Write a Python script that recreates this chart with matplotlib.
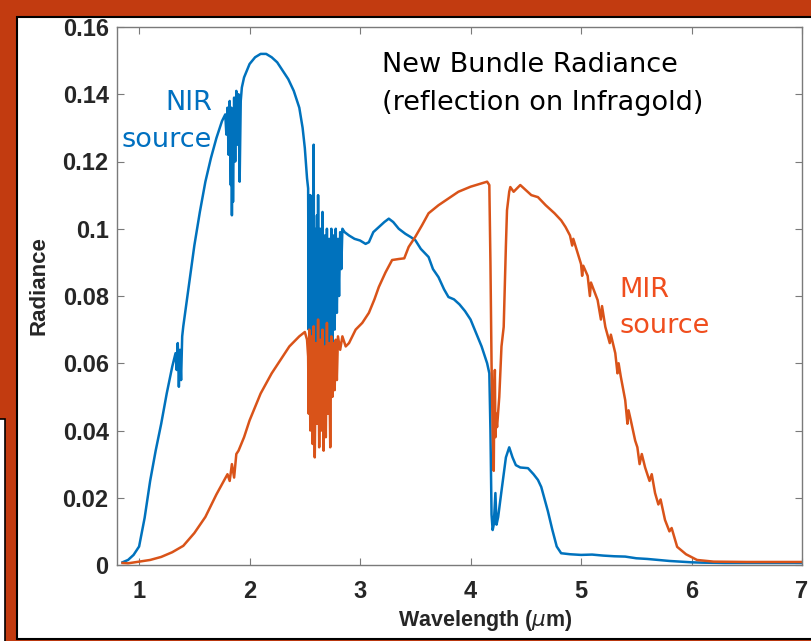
import matplotlib.pyplot as plt
from matplotlib.patches import Rectangle

# NIR source (blue) - wavelength (um), radiance
nir_x = [0.85, 0.9, 0.95, 1.0, 1.05, 1.1, 1.15, 1.2, 1.25, 1.3, 1.33, 1.34, 1.35, 1.36, 1.37, 1.38, 1.39,
         1.4, 1.45, 1.5, 1.55, 1.6, 1.65, 1.7, 1.75, 1.78,
         1.79, 1.8, 1.81, 1.82, 1.83, 1.835, 1.84, 1.845, 1.85, 1.86, 1.87, 1.88, 1.89, 1.9, 1.91, 1.92, 1.93,
         1.95, 2.0, 2.05, 2.1, 2.15, 2.2, 2.25, 2.3, 2.35, 2.4, 2.45, 2.48, 2.5, 2.52,
         2.53, 2.535, 2.54, 2.545, 2.55, 2.56, 2.565, 2.57, 2.58, 2.585, 2.59, 2.6, 2.61, 2.615, 2.62, 2.63,
         2.64, 2.65, 2.66, 2.67, 2.68, 2.69, 2.7, 2.71, 2.72, 2.73, 2.74, 2.75, 2.76, 2.77, 2.78, 2.79, 2.8,
         2.81, 2.82, 2.83, 2.84, 2.86, 2.9, 2.95, 3.0, 3.05, 3.08, 3.12, 3.17, 3.22, 3.26, 3.3, 3.35, 3.41,
         3.46, 3.5, 3.55, 3.62, 3.66, 3.71, 3.76, 3.8, 3.85, 3.9, 3.95, 4.0, 4.05, 4.1, 4.15, 4.17, 4.18,
         4.19, 4.2, 4.21, 4.225, 4.235, 4.25, 4.28, 4.32, 4.35, 4.38, 4.41, 4.45, 4.52, 4.57, 4.61, 4.64,
         4.7, 4.74, 4.78, 4.82, 4.9, 5.0, 5.1, 5.2, 5.3, 5.4, 5.5, 5.6, 5.7, 5.8, 5.9, 6.0, 6.1, 6.3, 7.0]
nir_y = [0.0008, 0.0015, 0.003, 0.0055, 0.014, 0.025, 0.034, 0.042, 0.051, 0.059, 0.063, 0.058, 0.066, 0.053,
         0.064, 0.055, 0.068, 0.071, 0.083, 0.095, 0.105, 0.114, 0.121, 0.127, 0.132, 0.134,
         0.128, 0.136, 0.122, 0.138, 0.113, 0.136, 0.104, 0.13, 0.108, 0.139, 0.12, 0.141, 0.125, 0.14, 0.114,
         0.138, 0.142, 0.145, 0.149, 0.151, 0.152, 0.152, 0.151, 0.1495, 0.147, 0.1445, 0.141, 0.136, 0.13,
         0.124, 0.115,
         0.112, 0.07, 0.108, 0.06, 0.11, 0.05, 0.105, 0.065, 0.125, 0.055, 0.1, 0.045, 0.104, 0.06, 0.11, 0.05,
         0.1, 0.058, 0.105, 0.048, 0.098, 0.06, 0.1, 0.055, 0.097, 0.065, 0.1, 0.06, 0.098, 0.07, 0.1, 0.075,
         0.097, 0.08, 0.099, 0.088, 0.1, 0.099, 0.098, 0.097, 0.0965, 0.0955, 0.096, 0.099, 0.1005, 0.102,
         0.103, 0.102, 0.1, 0.0985, 0.0975, 0.0966, 0.094, 0.0916, 0.088, 0.0856, 0.082, 0.0797, 0.079,
         0.0775, 0.0755, 0.073, 0.069, 0.065, 0.06, 0.057, 0.04, 0.015, 0.0104, 0.012, 0.0214, 0.012, 0.0143,
         0.022, 0.032, 0.035, 0.032, 0.0297, 0.029, 0.0288, 0.027, 0.0253, 0.0232, 0.016, 0.0105, 0.0055,
         0.0035, 0.0032, 0.003, 0.0031, 0.0028, 0.0026, 0.0025, 0.002, 0.0018, 0.0015, 0.0012, 0.001, 0.0008,
         0.0007, 0.0006, 0.0006]

# MIR source (orange)
mir_x = [0.85, 0.9, 1.0, 1.1, 1.2, 1.3, 1.4, 1.5, 1.6, 1.7, 1.8, 1.82, 1.84, 1.86, 1.88, 1.9, 1.95, 2.0,
         2.1, 2.2, 2.3, 2.36, 2.45, 2.5, 2.52,
         2.53, 2.535, 2.54, 2.55, 2.56, 2.57, 2.58, 2.59, 2.6, 2.61, 2.62, 2.63, 2.64, 2.65, 2.66, 2.67, 2.68,
         2.69, 2.7, 2.71, 2.72, 2.73, 2.74, 2.75, 2.76, 2.77, 2.78, 2.79, 2.8, 2.82, 2.84, 2.87, 2.9, 2.96,
         3.02, 3.08, 3.13, 3.17, 3.23, 3.29, 3.35, 3.4, 3.44, 3.5, 3.56, 3.62, 3.71, 3.8, 3.89, 4.0, 4.1,
         4.15, 4.17, 4.18, 4.19, 4.2, 4.21, 4.215, 4.22, 4.225, 4.23, 4.24, 4.26, 4.28, 4.3, 4.32, 4.33, 4.35,
         4.36, 4.39, 4.42, 4.45, 4.5, 4.55, 4.61, 4.68, 4.76, 4.82, 4.86, 4.9, 4.92, 4.93, 4.97, 5.0, 5.01,
         5.02, 5.06, 5.08, 5.09, 5.15, 5.18, 5.19, 5.22, 5.26, 5.27, 5.31, 5.33, 5.34, 5.36, 5.4, 5.42, 5.43,
         5.45, 5.49, 5.51, 5.53, 5.55, 5.58, 5.62, 5.64, 5.67, 5.7, 5.72, 5.76, 5.8, 5.82, 5.87, 5.95, 6.05,
         6.2, 6.5, 7.0]
mir_y = [0.0006, 0.0005, 0.001, 0.0015, 0.0024, 0.0038, 0.0057, 0.0095, 0.0143, 0.021, 0.027, 0.025, 0.03,
         0.026, 0.033, 0.034, 0.038, 0.043, 0.051, 0.057, 0.062, 0.065, 0.068, 0.0693, 0.067,
         0.062, 0.045, 0.07, 0.04, 0.068, 0.036, 0.071, 0.032, 0.066, 0.042, 0.073, 0.035, 0.067, 0.04, 0.07,
         0.034, 0.065, 0.038, 0.072, 0.045, 0.066, 0.035, 0.068, 0.05, 0.066, 0.052, 0.067, 0.055, 0.068,
         0.064, 0.068, 0.065, 0.066, 0.07, 0.072, 0.075, 0.079, 0.0827, 0.087, 0.0907, 0.091, 0.0912, 0.0946,
         0.0976, 0.101, 0.1046, 0.107, 0.109, 0.111, 0.1125, 0.1135, 0.114, 0.113, 0.09, 0.06, 0.04, 0.028,
         0.05, 0.058, 0.038, 0.045, 0.041, 0.05, 0.065, 0.0708, 0.095, 0.1055, 0.111, 0.1124, 0.111, 0.112,
         0.113, 0.1115, 0.11, 0.1094, 0.107, 0.1046, 0.1025, 0.1005, 0.098, 0.095, 0.097, 0.0927, 0.0895,
         0.086, 0.089, 0.086, 0.08, 0.084, 0.0788, 0.073, 0.077, 0.0708, 0.066, 0.0685, 0.063, 0.057, 0.06,
         0.056, 0.049, 0.042, 0.046, 0.0431, 0.037, 0.035, 0.03, 0.033, 0.029, 0.025, 0.027, 0.0214, 0.018,
         0.0195, 0.0134, 0.01, 0.011, 0.0054, 0.0032, 0.0015, 0.001, 0.0009, 0.0009]

x_ticks = [1, 2, 3, 4, 5, 6, 7]
y_ticks = [0, 0.02, 0.04, 0.06, 0.08, 0.1, 0.12, 0.14, 0.16]
y_tick_labels = ['0', '0.02', '0.04', '0.06', '0.08', '0.1', '0.12', '0.14', '0.16']

W, H = 812, 641
fig = plt.figure(figsize=(W / 100, H / 100), dpi=100, facecolor='#c23b10')

# slide panels behind the axes
fig.patches.append(Rectangle((-0.01, -0.01), 5 / W + 0.01, (H - 419) / H + 0.01, transform=fig.transFigure,
                             facecolor='white', edgecolor='black', lw=1.2, zorder=-10))
fig.patches.append(Rectangle((17 / W, 2 / H), 1.0, (639 - 17) / H, transform=fig.transFigure,
                             facecolor='white', edgecolor='black', lw=1.5, zorder=-9))

ax = fig.add_axes([117 / W, (H - 565) / H, (802 - 117) / W, (565 - 27) / H])
ax.set_zorder(5)
ax.set_facecolor('white')

ax.plot(nir_x, nir_y, color='#0072BD', lw=1.8)
ax.plot(mir_x, mir_y, color='#D95319', lw=1.8)

ax.set_xlim(0.8, 7)
ax.set_ylim(0, 0.16)
ax.set_xticks(x_ticks)
ax.set_yticks(y_ticks)
ax.set_yticklabels(y_tick_labels)
for s in ax.spines.values():
    s.set_color('#7a7a7a')
    s.set_linewidth(1.0)
ax.tick_params(direction='in', top=True, right=True, length=5, color='#7a7a7a',
               labelsize=17, labelcolor='#262626')
ax.tick_params(axis='x', pad=11)
ax.tick_params(axis='y', pad=6)
for lab in ax.get_xticklabels() + ax.get_yticklabels():
    lab.set_fontfamily('Liberation Sans')
    lab.set_fontweight('bold')

ax.set_xlabel(r'Wavelength ($\mu$m)', fontsize=15.5, fontweight='bold', family='Liberation Sans',
              color='#262626')
ax.set_ylabel('Radiance', fontsize=16, fontweight='bold', family='Liberation Sans',
              color='#262626')
ax.xaxis.set_label_coords(0.538, -0.08)
ax.yaxis.set_label_coords(-0.099, 0.519)

ann = dict(fontsize=19.5, family='DejaVu Sans', va='baseline')
ax.text(3.198, 0.1466, 'New Bundle Radiance', color='black', ha='left', **ann)
ax.text(3.198, 0.1353, '(reflection on Infragold)', color='black', ha='left', **ann)
ax.text(1.658, 0.1353, 'NIR', color='#0070C0', ha='right', **ann)
ax.text(1.655, 0.1243, 'source', color='#0070C0', ha='right', **ann)
ax.text(5.35, 0.0798, 'MIR', color='#F04E1E', ha='left', **ann)
ax.text(5.35, 0.069, 'source', color='#F04E1E', ha='left', **ann)

fig.savefig('out.png', dpi=100, facecolor=fig.get_facecolor())
